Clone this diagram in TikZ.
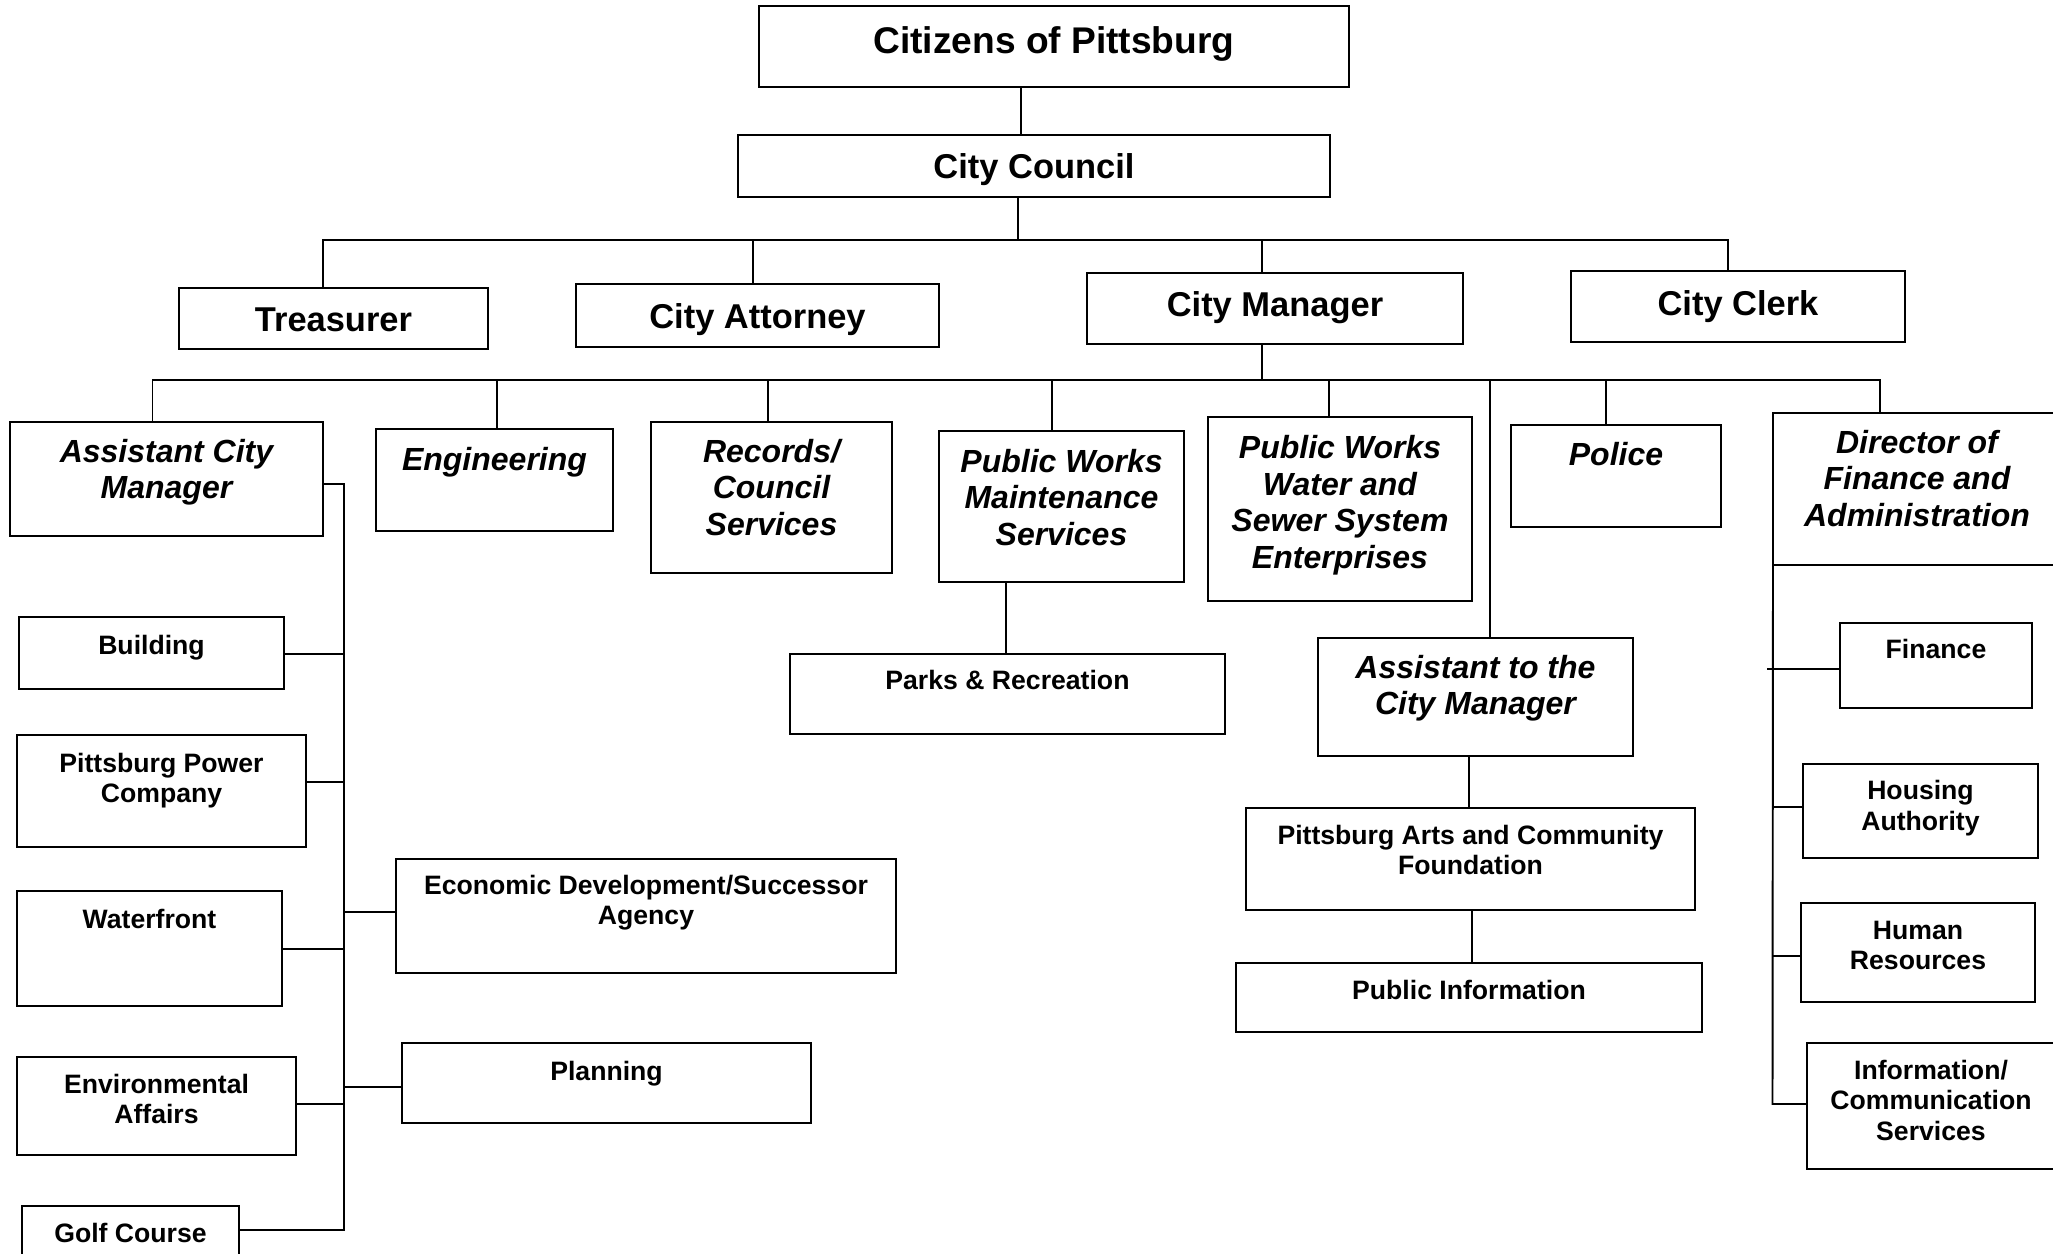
\documentclass[tikz,border=0pt]{standalone}
\usepackage{fontspec}
\setmainfont{Liberation Sans}
\newdimen\pxu \pxu=0.01cm
\newcommand\fcitz{\fontsize{10.56pt}{12pt}\selectfont\bfseries}
\newcommand\ftitl{\fontsize{9.8pt}{11.5pt}\selectfont\bfseries}
\newcommand\fitbf{\fontsize{9.1pt}{10.4pt}\selectfont\bfseries\itshape}
\newcommand\fsmbf{\fontsize{7.57pt}{8.8pt}\selectfont\bfseries}
% #1 name, #2 left, #3 top, #4 right, #5 bottom, #6 font, #7 first-baseline offset, #8 text
\newcommand\orgbox[8]{\node[orgb] (#1) at (#2,#3) {\parbox[t][\dimexpr #5\pxu-#3\pxu\relax][t]{\dimexpr #4\pxu-#2\pxu\relax}{#6\centering\rule{0pt}{#7\pxu}#8\par}};}
\begin{document}
\begin{tikzpicture}[x=0.01cm, y=-0.01cm,
  orgb/.style={draw, line width=0.65pt, inner sep=0pt, outer sep=0pt, anchor=north west},
  conn/.style={line width=0.55pt}]
\useasboundingbox (0,0) rectangle (2053,1254);
\fill[white] (0,0) rectangle (2053,1254);
\clip (0,0) rectangle (2053,1254);

% top levels
\orgbox{cit}{759}{6}{1349}{87}{\fcitz}{47}{Citizens of Pittsburg}
\orgbox{council}{738}{135}{1330}{197}{\ftitl}{43.5}{City Council}
\orgbox{treas}{179}{288}{488}{349}{\ftitl}{43.5}{Treasurer}
\orgbox{atty}{576}{284}{939}{347}{\ftitl}{44}{City Attorney}
\orgbox{mgr}{1087}{273}{1463}{344}{\ftitl}{43.5}{City Manager}
\orgbox{clerk}{1571}{271}{1905}{342}{\ftitl}{44}{City Clerk}

% departments
\orgbox{acm}{10}{422}{323}{536}{\fitbf}{40}{Assistant City\\Manager}
\orgbox{eng}{376}{429}{613}{531}{\fitbf}{41}{Engineering}
\orgbox{rec}{651}{422}{892}{573}{\fitbf}{40}{Records/\\Council\\Services}
\orgbox{pwm}{939}{431}{1184}{582}{\fitbf}{41}{Public Works\\Maintenance\\Services}
\orgbox{pww}{1208}{417}{1472}{601}{\fitbf}{41.5}{Public Works\\Water and\\Sewer System\\Enterprises}
\orgbox{police}{1511}{425}{1721}{527}{\fitbf}{40.5}{Police}
\orgbox{dir}{1773}{413}{2061}{565}{\fitbf}{40}{Director of\\Finance and\\Administration}
\orgbox{atcm}{1318}{638}{1633}{756}{\fitbf}{40}{Assistant to the\\City Manager}

% sub-units
\orgbox{building}{19}{617}{284}{689}{\fsmbf}{37}{Building}
\orgbox{power}{17}{735}{306}{847}{\fsmbf}{37}{Pittsburg Power\\Company}
\orgbox{water}{17}{891}{282}{1006}{\fsmbf}{37}{Waterfront}
\orgbox{env}{17}{1057}{296}{1155}{\fsmbf}{36}{Environmental\\Affairs}
\orgbox{golf}{22}{1206}{239}{1270}{\fsmbf}{36}{Golf Course}
\orgbox{econ}{396}{859}{896}{973}{\fsmbf}{35}{Economic Development/Successor\\Agency}
\orgbox{plan}{402}{1043}{811}{1123}{\fsmbf}{37}{Planning}
\orgbox{parks}{790}{654}{1225}{734}{\fsmbf}{35}{Parks \& Recreation}
\orgbox{arts}{1246}{808}{1695}{910}{\fsmbf}{36}{Pittsburg Arts and Community\\Foundation}
\orgbox{pubinfo}{1236}{963}{1702}{1032}{\fsmbf}{36}{Public Information}
\orgbox{finance}{1840}{623}{2032}{708}{\fsmbf}{35}{Finance}
\orgbox{housing}{1803}{764}{2038}{858}{\fsmbf}{35.5}{Housing\\Authority}
\orgbox{hr}{1801}{903}{2035}{1002}{\fsmbf}{36}{Human\\Resources}
\orgbox{info}{1807}{1043}{2055}{1169}{\fsmbf}{36}{Information/\\Communication\\Services}

% helper coordinates
\coordinate (c1) at (1021,0);
\coordinate (tb) at (1018,240);
\coordinate (tbL) at (323,240);
\coordinate (tbR) at (1728,240);
\coordinate (ta) at (753,240);
\coordinate (tm) at (1262,240);
\coordinate (sbL) at (152.5,380);
\coordinate (sbR) at (1880,380);
\coordinate (sm) at (1262,380);
\coordinate (se) at (497,380);
\coordinate (sr) at (768,380);
\coordinate (sp) at (1052,380);
\coordinate (sw) at (1329,380);
\coordinate (sa) at (1490,380);
\coordinate (sq) at (1606,380);
\coordinate (a1) at (344,484);
\coordinate (ab) at (344,654);
\coordinate (ap) at (344,782);
\coordinate (aw) at (344,949);
\coordinate (ae) at (344,1104);
\coordinate (ag) at (344,1230);
\coordinate (ad) at (344,912);
\coordinate (an) at (344,1087);
\coordinate (pk) at (1006,0);
\coordinate (at) at (1469,0);
\coordinate (ar) at (1472,0);
\coordinate (df) at (1767,669);
\coordinate (dv) at (1772.5,669);
\coordinate (dh) at (1772.5,807);
\coordinate (dr) at (1772.5,956);
\coordinate (di) at (1772.5,1104);

% connectors
\draw[conn] (cit.south -| c1) -- (council.north -| c1);
\draw[conn] (council.south -| tb) -- (tb);
\draw[conn] (treas.north -| tbL) -- (tbL) -- (tbR) -- (clerk.north -| tbR);
\draw[conn] (ta) -- (atty.north -| ta);
\draw[conn] (tm) -- (mgr.north -| tm);

\draw[conn] (mgr.south -| sm) -- (sm);
\draw[conn] (acm.north -| sbL) -- (sbL) -- (sbR) -- (dir.north -| sbR);
\draw[conn] (se) -- (eng.north -| se);
\draw[conn] (sr) -- (rec.north -| sr);
\draw[conn] (sp) -- (pwm.north -| sp);
\draw[conn] (sw) -- (pww.north -| sw);
\draw[conn] (sa) -- (atcm.north -| sa);
\draw[conn] (sq) -- (police.north -| sq);

\draw[conn] (acm.east |- a1) -- (a1) -- (ag) -- (golf.east |- ag);
\draw[conn] (ab) -- (building.east |- ab);
\draw[conn] (ap) -- (power.east |- ap);
\draw[conn] (aw) -- (water.east |- aw);
\draw[conn] (ae) -- (env.east |- ae);
\draw[conn] (ad) -- (econ.west |- ad);
\draw[conn] (an) -- (plan.west |- an);

\draw[conn] (pwm.south -| pk) -- (parks.north -| pk);
\draw[conn] (atcm.south -| at) -- (arts.north -| at);
\draw[conn] (arts.south -| ar) -- (pubinfo.north -| ar);

\draw[conn] (dir.south west) -- (di) -- (info.west |- di);
\draw[conn] (df) -- (finance.west |- df);
\draw[conn] (dh) -- (housing.west |- dh);
\draw[conn] (dr) -- (hr.west |- dr);
\end{tikzpicture}
\end{document}
